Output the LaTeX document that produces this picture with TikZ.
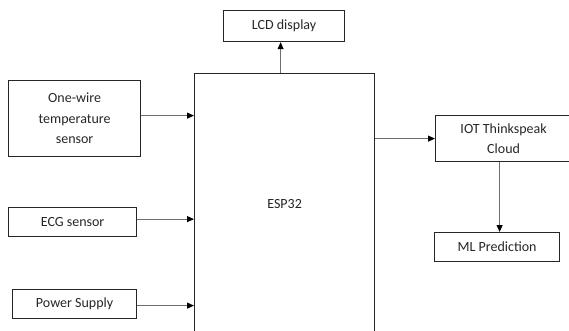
\documentclass[tikz,border=0pt]{standalone}
\usepackage{fontspec}
\setmainfont{Carlito}
\usetikzlibrary{arrows.meta, positioning}
\definecolor{boxline}{HTML}{262626}
\definecolor{wire}{HTML}{6E6E6E}

\tikzset{
  block/.style={draw=boxline, line width=1.2pt, align=center, inner sep=0pt,
    anchor=north west, text=boxline, font=\fontsize{14}{20.5}\selectfont},
  link/.style={->, wire, line width=0.9pt},
}

\begin{document}
\begin{tikzpicture}[x=1pt, y=-1pt, >={Triangle[length=7pt, width=6pt, color=black]}]

% Page frame (the controller box runs past the bottom edge)
\useasboundingbox (0,0) rectangle (569,330);
\clip (0,0) rectangle (569,330);

% --- Controller ---
\node[block, minimum width=180pt, minimum height=260pt] (esp) at (194,73) {ESP32};

% --- Inputs ---
\node[block, minimum width=132pt, minimum height=76pt] (temp) at (8,80)
  {One-wire\\temperature\\sensor};
\node[block, minimum width=128pt, minimum height=29pt] (ecg) at (8,207) {ECG sensor};
\node[block, minimum width=124pt, minimum height=29pt] (power) at (12,289) {Power Supply};

% --- Outputs ---
\node[block, minimum width=121pt, minimum height=31pt] (lcd) at (223,10) {LCD display};
\node[block, minimum width=136pt, minimum height=46pt] (cloud) at (435,115)
  {IOT Thinkspeak\\Cloud};
\node[block, minimum width=125pt, minimum height=29pt] (ml) at (434,232) {ML Prediction};

% --- Connections ---
\draw[link] ([yshift=3pt]temp.east) -- ([yshift=3pt]temp.east -| esp.west);
\draw[link] ([yshift=3pt]ecg.east) -- ([yshift=3pt]ecg.east -| esp.west);
\draw[link] ([yshift=-1.5pt]power.east) -- ([yshift=-1.5pt]power.east -| esp.west);
\draw[link] ([xshift=-3.5pt]lcd.south |- esp.north) -- ([xshift=-3.5pt]lcd.south);
\draw[link] (esp.east |- cloud.west) -- (cloud.west);
\draw[link] ([xshift=2.5pt]cloud.south -| ml.north) -- ([xshift=2.5pt]ml.north);

\end{tikzpicture}
\end{document}
